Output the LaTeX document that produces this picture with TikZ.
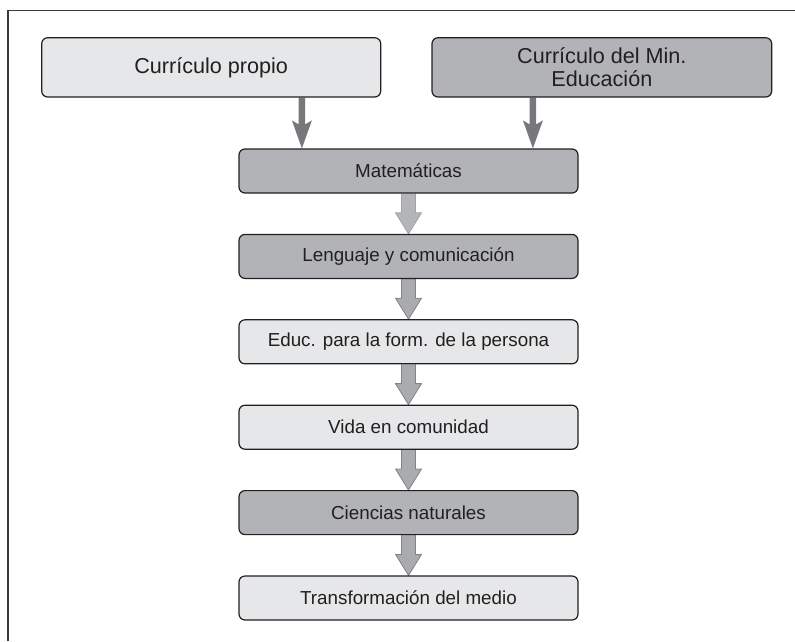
\documentclass[tikz,border=0pt]{standalone}
\usepackage{fontspec}
\setmainfont{Liberation Sans}
\usetikzlibrary{calc,backgrounds}
\definecolor{boxlight}{HTML}{E6E7E8}
\definecolor{boxdark}{HTML}{B1B3B6}
\definecolor{ink}{HTML}{231F20}
\definecolor{thinarr}{HTML}{77787B}
\definecolor{fatfill}{HTML}{A9ABAE}
\definecolor{fatline}{HTML}{808285}
\definecolor{fatpale}{HTML}{B3B5B8}
\definecolor{fatpaleline}{HTML}{A0A2A5}
\definecolor{framecol}{HTML}{3A3A3A}
\tikzset{
  cbox/.style={draw=ink, line width=1.2pt, rounded corners=6pt, text=ink,
    minimum width=339pt, inner sep=0pt, align=center},
  topbox/.style={cbox, minimum height=59.3pt, font=\fontsize{21.6}{23.5}\selectfont},
  lowbox/.style={cbox, minimum height=44pt, font=\fontsize{18.8}{21}\selectfont},
  light/.style={fill=boxlight},
  dark/.style={fill=boxdark},
  fatarrow/.style={fill=fatfill, draw=fatline, line width=0.8pt, line join=miter},
  palearrow/.style={fill=fatpale, draw=fatpaleline},
  thinarrow/.style={fill=thinarr, draw=none},
  framestyle/.style={draw=framecol, line width=1.2pt}
}
\newcommand\fatarr[3][]{%
  \draw[fatarrow,#1] ($(#2.south)+(-7pt,0)$) -- ($(#3.north)+(-7pt,21pt)$)
    -- ($(#3.north)+(-13pt,21pt)$) -- (#3.north) -- ($(#3.north)+(13pt,21pt)$)
    -- ($(#3.north)+(7pt,21pt)$) -- ($(#2.south)+(7pt,0)$);}
\newcommand\thinarr[3]{%
  \coordinate (#3) at ($(#2.north west)+(#1,0)$);
  \fill[thinarrow] ($(#3|-p.south)+(-3.2pt,0)$) -- ($(#3)+(-3.2pt,24pt)$)
    -- ($(#3)+(-10pt,28pt)$) -- (#3) -- ($(#3)+(10pt,28pt)$)
    -- ($(#3)+(3.2pt,24pt)$) -- ($(#3|-p.south)+(3.2pt,0)$) -- cycle;}
\begin{document}
\begin{tikzpicture}[x=1pt,y=1pt]
\useasboundingbox (0,0) rectangle (795,-641);
\coordinate (fbl) at (8,-641);
\coordinate (ftl) at (8,-10.5);
\coordinate (ftr) at (795,-10.5);
\draw[framestyle] (fbl) -- (ftl) -- (ftr);

\node[topbox, light] (p) at (211.2,-67.35) {Currículo propio};
\node[topbox, dark, minimum width=339.7pt] (q) at (601.85,-67.35) {Currículo del Min.\\Educación};

\node[lowbox, dark]  (m) at (408.5,-171)   {Matemáticas};
\node[lowbox, dark]  (l) at (408.5,-256.4) {Lenguaje y comunicación};
\node[lowbox, light] (e) at (408.5,-341.8) {Educ. para la form. de la persona};
\node[lowbox, light] (v) at (408.5,-427.2) {Vida en comunidad};
\node[lowbox, dark]  (c) at (408.5,-512.6) {Ciencias naturales};
\node[lowbox, light] (t) at (408.5,-598)   {Transformación del medio};

\begin{scope}[on background layer]
  \thinarr{63.5pt}{m}{t1}
  \thinarr{294.5pt}{m}{t2}
  \fatarr[palearrow]{m}{l}
  \fatarr{l}{e}
  \fatarr{e}{v}
  \fatarr{v}{c}
  \fatarr{c}{t}
\end{scope}
\end{tikzpicture}
\end{document}
